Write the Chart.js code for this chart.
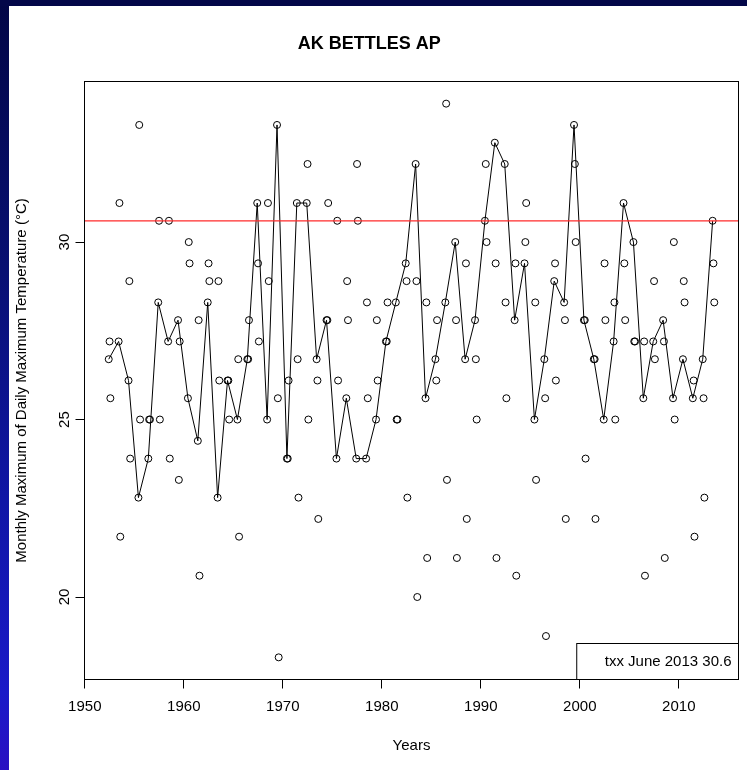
<!DOCTYPE html>
<html>
<head>
<meta charset="utf-8">
<script src="https://cdn.jsdelivr.net/npm/chart.js@4.4.0/dist/chart.umd.min.js"></script>
<style>
html,body{margin:0;padding:0;background:#fff;}
#wrap{position:relative;width:747px;height:770px;overflow:hidden;background:#fff;}
#c{position:absolute;left:0;top:0;}
#topbar{position:absolute;left:0;top:0;width:747px;height:6px;background:#030749;}
#leftbar{position:absolute;left:0;top:0;width:9px;height:770px;
  background:linear-gradient(to bottom,#020646 0%,#081072 35%,#1016a6 65%,#1a1ac8 90%,#2a10c2 100%);}
</style>
</head>
<body>
<div id="wrap">
<canvas id="c" width="747" height="770"></canvas>
<div id="leftbar"></div>
<div id="topbar"></div>
</div>
<script>
// ---- text ----
const stationName = "AK BETTLES AP";
const xAxisLabel = "Years";
const yAxisLabel = "Monthly Maximum of Daily Maximum Temperature (\u00B0C)";

// ---- data (monthly TXx, deg C) ----
const years = [1952,1953,1954,1955,1956,1957,1958,1959,1960,1961,1962,1963,1964,1965,1966,1967,1968,1969,1970,1971,
  1972,1973,1974,1975,1976,1977,1978,1979,1980,1981,1982,1983,1984,1985,1986,1987,1988,1989,1990,1991,
  1992,1993,1994,1995,1996,1997,1998,1999,2000,2001,2002,2003,2004,2005,2006,2007,2008,2009,2010,2011,2012,2013];

const juneTxx = [26.7,27.2,26.1,22.8,23.9,28.3,27.2,27.8,25.6,24.4,28.3,22.8,26.1,25.0,26.7,31.1,25.0,33.3,23.9,31.1,
  31.1,26.7,27.8,23.9,25.6,23.9,23.9,25.0,27.2,28.3,29.4,32.2,25.6,26.7,28.3,30.0,26.7,27.8,30.6,32.8,
  32.2,27.8,29.4,25.0,26.7,28.9,28.3,33.3,27.8,26.7,25.0,27.2,31.1,30.0,25.6,27.2,27.8,25.6,26.7,25.6,26.7,30.6];

const julyTxx = [27.2,31.1,28.9,33.3,25.0,30.6,30.6,23.3,30.0,27.8,29.4,28.9,26.1,26.7,26.7,29.4,31.1,25.6,23.9,26.7,
  32.2,26.1,27.8,30.6,28.9,32.2,28.3,27.8,27.2,25.0,28.9,28.9,28.3,26.1,33.9,27.8,29.4,26.7,32.2,29.4,
  28.3,29.4,30.0,28.3,25.6,29.4,27.8,32.2,27.8,26.7,29.4,28.3,29.4,27.2,27.2,28.9,27.2,30.0,28.9,26.1,25.6,29.4];

const augustTxx = [25.6,21.7,23.9,25.0,25.0,25.0,23.9,27.2,29.4,20.6,28.9,26.1,25.0,21.7,27.8,27.2,28.9,18.3,26.1,22.8,
  25.0,22.2,31.1,26.1,27.8,30.6,25.6,26.1,28.3,25.0,22.8,20.0,21.1,27.8,23.3,21.1,22.2,25.0,30.0,21.1,
  25.6,20.6,31.1,23.3,18.9,26.1,22.2,30.0,23.9,22.2,27.8,25.0,27.8,27.2,20.6,26.7,21.1,25.0,28.3,21.7,22.8,28.3];

// reference value shown by the red line and the legend
const refLabel = "txx";
const refMonth = "June";
const refYear = 2013;
const refValue = 30.6;

// ---- tick labels ----
const xTicks = [1950,1960,1970,1980,1990,2000,2010];
const yTicks = [20,25,30];

// month index (0-based) -> fractional year position
const juneIdx = 5, julyIdx = 6, augustIdx = 7;
function toPoints(vals, m) { return years.map((yr, i) => ({x: yr + m / 12, y: vals[i]})); }

const junePts = toPoints(juneTxx, juneIdx);
const julyPts = toPoints(julyTxx, julyIdx);
const augPts = toPoints(augustTxx, augustIdx);

// R-style axis range: data range padded by 4% each side
function rRange(arr) {
  const lo = Math.min(...arr), hi = Math.max(...arr), p = 0.04 * (hi - lo);
  return [lo - p, hi + p];
}
const allPts = junePts.concat(julyPts, augPts);
const [xMin, xMax] = rRange(allPts.map(p => p.x));
const [yMin, yMax] = rRange(allPts.map(p => p.y));

Chart.defaults.font.family = '"Liberation Sans", Arial, Helvetica, sans-serif';
Chart.defaults.font.size = 15;
Chart.defaults.color = '#000';

const framePlugin = {
  id: 'frame',
  beforeDraw(chart) {
    const ctx = chart.ctx;
    ctx.save();
    ctx.fillStyle = '#fff';
    ctx.fillRect(0, 0, chart.width, chart.height);
    ctx.restore();
  },
  afterDatasetsDraw(chart) {
    const {ctx, chartArea: a, scales} = chart;
    ctx.save();
    // red reference line
    const yRef = scales.y.getPixelForValue(refValue);
    ctx.strokeStyle = '#ff2a2a';
    ctx.lineWidth = 1.2;
    ctx.beginPath();
    ctx.moveTo(a.left, yRef);
    ctx.lineTo(a.right, yRef);
    ctx.stroke();
    // plot box
    ctx.strokeStyle = '#000';
    ctx.lineWidth = 1;
    ctx.strokeRect(a.left, a.top, a.right - a.left, a.bottom - a.top);
    // legend box (bottom right)
    ctx.font = '15px "Liberation Sans", Arial, sans-serif';
    const txt = refLabel + ' ' + refMonth + ' ' + refYear + ' ' + refValue.toFixed(1);
    const tw = ctx.measureText(txt).width;
    const bw = tw + 35, bh = 36;
    const bx = a.right - bw, by = a.bottom - bh;
    ctx.fillStyle = '#fff';
    ctx.fillRect(bx, by, bw, bh);
    ctx.strokeRect(bx, by, bw, bh);
    ctx.fillStyle = '#000';
    ctx.textAlign = 'left';
    ctx.textBaseline = 'middle';
    ctx.fillText(txt, bx + 28, by + bh / 2 + 0.5);
    ctx.restore();
  }
};

const ptStyle = {
  showLine: false,
  pointRadius: 3.5,
  pointBorderWidth: 1,
  pointBorderColor: '#000',
  pointBackgroundColor: 'rgba(0,0,0,0)',
  backgroundColor: 'rgba(0,0,0,0)',
  borderColor: '#000'
};

new Chart(document.getElementById('c'), {
  type: 'scatter',
  data: {
    datasets: [
      Object.assign({label: 'June', data: junePts}, ptStyle, {showLine: true, borderWidth: 1, tension: 0}),
      Object.assign({label: 'July', data: julyPts}, ptStyle),
      Object.assign({label: 'August', data: augPts}, ptStyle)
    ]
  },
  options: {
    responsive: false,
    animation: false,
    devicePixelRatio: 1,
    events: [],
    layout: {padding: {left: 0, top: 0, right: 8.5, bottom: 0}},
    plugins: {
      legend: {display: false},
      tooltip: {enabled: false},
      title: {
        display: true, text: stationName, color: '#000',
        font: {size: 18, weight: 'bold', lineHeight: 1.2},
        padding: {top: 33.7, bottom: 26.2}
      }
    },
    scales: {
      x: {
        type: 'linear', position: 'bottom', min: xMin, max: xMax,
        afterBuildTicks: s => { s.ticks = xTicks.map(v => ({value: v})); },
        afterFit: s => { s.height = 90.5; },
        grid: {drawOnChartArea: false, drawTicks: true, tickLength: 9, color: '#000', lineWidth: 1},
        border: {display: false},
        ticks: {color: '#000', font: {size: 15}, padding: 9, minRotation: 0, maxRotation: 0, autoSkip: false,
          callback: v => String(v)},
        title: {display: true, text: xAxisLabel, color: '#000', font: {size: 15}, padding: {top: 0, bottom: 15}}
      },
      y: {
        type: 'linear', position: 'left', min: yMin, max: yMax,
        afterBuildTicks: s => { s.ticks = yTicks.map(v => ({value: v})); },
        afterFit: s => { s.width = 84.5; },
        grid: {drawOnChartArea: false, drawTicks: true, tickLength: 9, color: '#000', lineWidth: 1},
        border: {display: false},
        ticks: {color: '#000', font: {size: 15}, padding: 2, minRotation: 90, maxRotation: 90, crossAlign: 'center',
          autoSkip: false, callback: v => String(v)},
        title: {display: true, text: yAxisLabel, color: '#000', font: {size: 15}, padding: {top: 13, bottom: 0}}
      }
    }
  },
  plugins: [framePlugin]
});
</script>
</body>
</html>
